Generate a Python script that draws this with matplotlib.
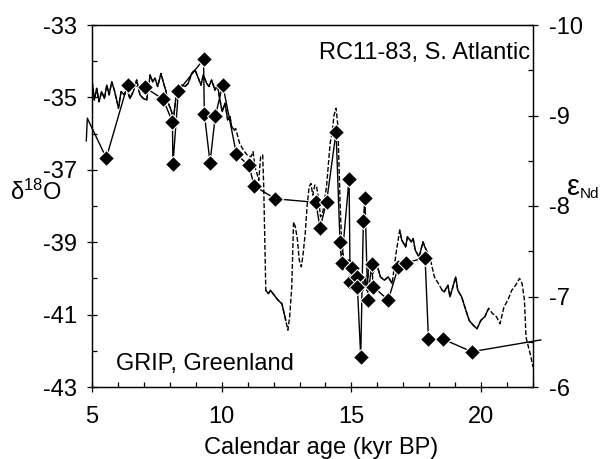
import matplotlib
matplotlib.use('Agg')
import matplotlib.pyplot as plt
from matplotlib.ticker import MultipleLocator

plt.rcParams['font.family'] = ['Liberation Sans', 'DejaVu Sans']
plt.rcParams['mathtext.fontset'] = 'custom'
plt.rcParams['mathtext.rm'] = 'Liberation Sans'
plt.rcParams['mathtext.it'] = 'Liberation Sans:italic'
plt.rcParams['axes.unicode_minus'] = False

# GRIP, Greenland d18O
grip_age = [5.01, 5.09, 5.18, 5.27, 5.37, 5.48, 5.57, 5.66, 5.76, 5.86, 5.95, 6.02, 6.12, 6.25,
            6.34, 6.46, 6.59, 6.72, 6.85, 6.98, 7.11, 7.24, 7.34, 7.43, 7.53, 7.66, 7.76, 7.84,
            7.94, 8.05, 8.14, 8.23, 8.33, 8.46, 8.59, 8.71, 8.84, 8.97, 9.10, 9.20, 9.29, 9.42,
            9.51, 9.61, 9.74, 9.84, 9.93, 10.02, 10.13, 10.23, 10.32, 10.38, 10.49, 10.54, 10.69,
            10.84, 10.98, 11.13, 11.21, 11.28, 11.36, 11.43, 11.50, 11.58, 11.62, 11.70, 11.80,
            11.88, 12.03, 12.17, 12.32, 12.47, 12.55, 12.62, 12.70, 12.77, 12.84, 12.92, 12.99,
            13.07, 13.14, 13.22, 13.29, 13.37, 13.44, 13.51, 13.59, 13.66, 13.74, 13.81, 13.89,
            13.96, 14.04, 14.18, 14.26, 14.33, 14.41, 14.48, 14.56, 14.63, 14.71, 14.78, 14.85,
            14.93, 15.00, 15.08, 15.15, 15.30, 15.45, 15.52, 15.60, 15.67, 15.75, 15.82, 15.97,
            16.12, 16.27, 16.42, 16.57, 16.72, 16.86, 16.94, 17.09, 17.16, 17.31, 17.38, 17.46,
            17.61, 17.76, 17.83, 17.98, 18.05, 18.20, 18.35, 18.50, 18.58, 18.72, 18.80, 18.95,
            19.02, 19.10, 19.25, 19.39, 19.54, 19.69, 19.84, 19.99, 20.14, 20.29, 20.44, 20.59,
            20.73, 20.88, 21.03, 21.18, 21.33, 21.48, 21.58, 21.67, 21.73, 21.92, 22.00]
grip_d18o = [-34.57, -35.07, -34.75, -35.12, -34.84, -35.03, -34.66, -34.93, -34.57, -34.80,
             -35.07, -35.30, -34.84, -34.93, -34.75, -35.03, -34.84, -34.52, -34.93, -35.03,
             -35.07, -34.38, -34.57, -34.47, -34.70, -34.34, -34.61, -34.80, -35.16, -35.35,
             -35.60, -35.03, -34.84, -34.66, -34.70, -34.61, -34.34, -34.24, -34.47, -34.66,
             -34.38, -34.61, -34.70, -34.52, -34.80, -34.66, -35.07, -35.39, -35.16, -35.62,
             -35.53, -35.81, -35.90, -35.86, -36.27, -36.46, -36.59, -36.64, -36.50, -36.92,
             -37.10, -37.29, -36.64, -36.59, -37.47, -40.33, -40.42, -40.33, -40.47, -40.60,
             -40.70, -41.16, -41.43, -41.06, -40.24, -38.44, -38.58, -38.94, -39.50, -39.68,
             -39.31, -38.76, -38.02, -37.47, -37.38, -37.70, -37.42, -37.47, -37.84, -38.30,
             -38.21, -37.84, -37.47, -36.27, -35.95, -35.49, -35.30, -35.81, -37.84, -39.13,
             -39.50, -39.59, -39.50, -39.50, -39.59, -39.96, -39.87, -40.24, -40.33, -39.96,
             -40.33, -39.59, -39.68, -39.87, -39.59, -39.96, -40.05, -39.96, -40.14, -39.31,
             -38.67, -38.94, -39.13, -38.85, -38.99, -38.90, -39.22, -39.41, -38.99, -39.13,
             -39.36, -39.50, -39.96, -40.14, -40.33, -40.37, -40.19, -40.51, -40.14, -39.96,
             -40.33, -40.51, -40.83, -41.16, -41.29, -41.39, -41.16, -41.06, -40.83, -40.97,
             -41.06, -41.25, -40.79, -40.60, -40.33, -40.19, -40.00, -40.14, -40.60, -41.62,
             -42.17, -42.45]
# stretches of the GRIP record drawn solid (rest is dashed)
grip_solid = [(5.0, 10.5), (11.7, 12.5), (14.6, 16.6), (16.86, 18.0), (18.5, 20.3)]

# RC11-83, S. Atlantic eNd (diamonds)
rc_age = [5.55, 6.37, 7.04, 7.74, 8.10, 8.12, 8.33, 9.30, 9.33, 9.55, 9.75, 10.04, 10.57,
          11.04, 11.26, 12.06, 13.63, 13.79, 14.04, 14.41, 14.56, 14.62, 14.91, 14.95, 15.01,
          15.20, 15.23, 15.36, 15.46, 15.52, 15.63, 15.78, 15.84, 16.42, 16.81, 17.10, 17.84,
          17.97, 18.52, 19.64]
rc_end = [-8.53, -9.34, -9.31, -9.18, -8.93, -8.46, -9.27, -9.62, -9.02, -8.48, -8.99, -9.34,
          -8.57, -8.45, -8.22, -8.08, -8.04, -7.76, -8.04, -8.82, -7.60, -7.37, -8.30, -7.16,
          -7.32, -7.22, -7.11, -6.33, -7.83, -8.09, -6.96, -7.36, -7.11, -6.96, -7.33, -7.37,
          -7.43, -6.53, -6.53, -6.39]
# line runs past both frame edges
rc_left_age = [4.78, 4.82, 5.55]
rc_left_end = [-8.72, -8.97, -8.53]
rc_right_age = [19.64, 22.3]
rc_right_end = [-6.39, -6.52]

fig = plt.figure(figsize=(6.05, 4.59), dpi=100)
ax = fig.add_axes([92 / 605, 1 - 387 / 459, 441 / 605, 362 / 459])
ax2 = ax.twinx()

ax.plot(grip_age, grip_d18o, color='black', lw=1.0, linestyle=(0, (3.5, 1.5)))
for lo, hi in grip_solid:
    seg = [i for i, a in enumerate(grip_age) if lo <= a <= hi]
    ax.plot([grip_age[i] for i in seg], [grip_d18o[i] for i in seg], color='black', lw=1.0)
ax.set_xlim(5, 22)
ax.set_ylim(-43, -33)

ax2.plot(rc_left_age, rc_left_end, color='black', lw=1.0, clip_on=False)
ax2.plot(rc_right_age, rc_right_end, color='black', lw=1.0, clip_on=False)
ax2.plot(rc_age, rc_end, color='black', lw=1.0, marker='D', markersize=8,
         markerfacecolor='black', markeredgecolor='white', markeredgewidth=0.8, clip_on=False)
ax2.set_ylim(-6, -10)

ax.xaxis.set_major_locator(MultipleLocator(5))
ax.xaxis.set_minor_locator(MultipleLocator(1))
ax.yaxis.set_minor_locator(MultipleLocator(1))
ax.set_yticks([-33, -35, -37, -39, -41, -43])
ax2.yaxis.set_major_locator(MultipleLocator(1))
ax2.yaxis.set_minor_locator(MultipleLocator(0.5))

for a in (ax, ax2):
    for s in a.spines.values():
        s.set_linewidth(0.9)
ax.tick_params(which='major', direction='inout', length=7, width=0.9, labelsize=17)
ax.tick_params(which='minor', direction='in', length=3.5, width=0.9)
ax.tick_params(axis='y', which='major', pad=7)
ax.tick_params(axis='x', which='major', pad=10)
ax.tick_params(right=False, top=False, which='both')
ax2.tick_params(which='major', direction='inout', length=7, width=0.9, labelsize=17, pad=8)
ax2.tick_params(which='minor', direction='in', length=3.5, width=0.9)

# axis titles
fig.text(10 / 605, 1 - 200 / 459, r'δ$^{\mathrm{18}}$O', fontsize=17, ha='left', va='baseline')
fig.text(567 / 605, 1 - 195 / 459, 'ε', fontsize=21, ha='left', va='baseline')
fig.text(580 / 605, 1 - 198 / 459, 'Nd', fontsize=11, ha='left', va='baseline')
fig.text(321 / 605, 1 - 454 / 459, 'Calendar age (kyr BP)', fontsize=17, ha='center', va='baseline')

fig.text(530 / 605, 1 - 59 / 459, 'RC11-83, S. Atlantic', fontsize=17, ha='right', va='baseline')
fig.text(116 / 605, 1 - 370 / 459, 'GRIP, Greenland', fontsize=17, ha='left', va='baseline')

fig.savefig('out.png', dpi=100)
